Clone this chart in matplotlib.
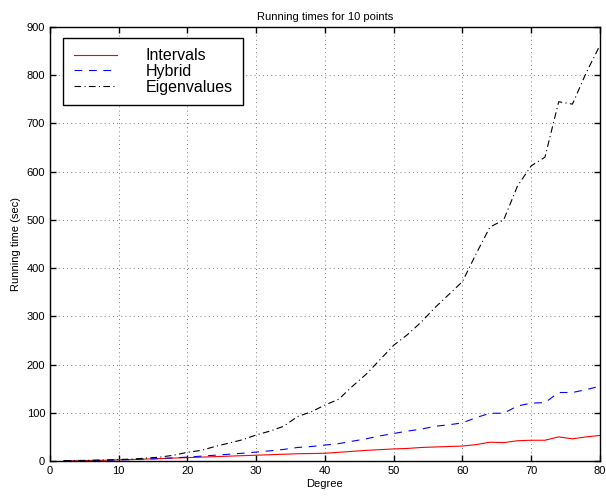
import matplotlib
matplotlib.use("Agg")
import matplotlib.pyplot as plt

degree = list(range(2, 81, 2))

intervals = [0.2, 0.5, 1, 1.5, 2.5, 3, 4, 5, 6, 7,
             8, 9, 10, 11, 12, 13, 14, 15, 15.5, 16,
             18, 20, 22, 23.5, 25, 26, 28, 29, 30, 31,
             34, 39, 38, 42, 43, 43, 50, 46, 50, 53]

hybrid = [0.3, 0.6, 1, 1.5, 2, 3, 4, 5, 6.5, 8,
          10, 12, 14, 16, 18.5, 21, 24, 28, 30, 33,
          36, 41, 46, 52, 57, 62, 66, 72, 75, 79,
          90, 99, 99, 114, 120, 121, 142, 142, 148, 155]

eigenvalues = [0.5, 1, 1.5, 2, 3, 4, 6, 8, 12, 18,
               22, 30, 37, 44, 54, 62, 72, 92, 102, 116,
               128, 155, 180, 210, 240, 262, 288, 318, 345, 372,
               430, 485, 500, 570, 612, 630, 745, 740, 805, 862]

xticks = [0, 10, 20, 30, 40, 50, 60, 70, 80]
yticks = [0, 100, 200, 300, 400, 500, 600, 700, 800, 900]

plt.rcParams['font.family'] = ['Liberation Sans', 'DejaVu Sans']

fig = plt.figure(figsize=(6.06, 4.96), dpi=100)
ax = fig.add_axes([0.0825, 0.0706, 0.9075, 0.875])

ax.plot(degree, intervals, color='red', linestyle='-', linewidth=0.8, label='Intervals')
ax.plot(degree, hybrid, color='blue', linestyle=(0, (7, 6)), linewidth=0.8, label='Hybrid')
ax.plot(degree, eigenvalues, color='black', linestyle=(0, (6, 3, 1, 3)), linewidth=0.8, label='Eigenvalues')

ax.set_xlim(0, 80)
ax.set_ylim(0, 900)
ax.set_xticks(xticks)
ax.set_yticks(yticks)
ax.tick_params(direction='in', top=True, right=True, labelsize=8, length=4, width=1)
ax.grid(True, linestyle=(0, (1, 4)), color='#555555', linewidth=0.6)
for s in ax.spines.values():
    s.set_linewidth(1)

ax.set_xlabel('Degree', fontsize=8, labelpad=2)
ax.set_ylabel('Running time (sec)', fontsize=8, labelpad=4)
ax.set_title('Running times for 10 points', fontsize=8, pad=5)

leg = ax.legend(loc='upper left', bbox_to_anchor=(0.024, 0.975), fontsize=11.5,
                frameon=True, fancybox=False, edgecolor='black', framealpha=1,
                handlelength=2.7, handletextpad=1.8, labelspacing=0.05,
                borderpad=0.65, borderaxespad=0)
leg.get_frame().set_linewidth(1)

fig.savefig('out.png', dpi=100)
